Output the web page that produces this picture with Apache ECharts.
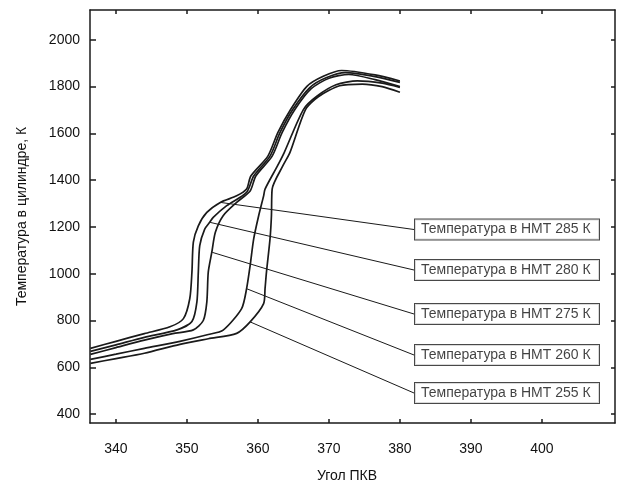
<!DOCTYPE html>
<html>
<head>
<meta charset="utf-8">
<script src="https://cdn.jsdelivr.net/npm/echarts@6/dist/echarts.min.js"></script>
<style>
  html, body { margin: 0; padding: 0; background: #fff; }
  #chart { width: 617px; height: 488px; }
</style>
</head>
<body>
<div id="chart"></div>
<script>
// Crank angle ticks and cylinder temperature ticks
const angleTicks = [340, 350, 360, 370, 380, 390, 400];
const tempTicks = [400, 600, 800, 1000, 1200, 1400, 1600, 1800, 2000];

// Curve names (intake temperature at BDC)
const curveNames = [
  'Температура в НМТ 285 К',
  'Температура в НМТ 280 К',
  'Температура в НМТ 275 К',
  'Температура в НМТ 260 К',
  'Температура в НМТ 255 К'
];

// [crank angle, temperature K]
const curve285 = [
  [336.4, 681], [340, 711], [344, 744], [347.6, 773], [349.5, 808], [350.4, 894],
  [350.7, 1007], [350.9, 1135], [351.6, 1205], [352.8, 1262], [354.7, 1305],
  [357.0, 1333], [358.4, 1362], [359.0, 1418], [361.4, 1503], [362.8, 1603],
  [364.6, 1702], [366.9, 1801], [369.2, 1844], [371.8, 1869], [376.5, 1850], [380, 1824]
];
const curve280 = [
  [336.4, 668], [340, 696], [344, 728], [348.6, 760], [350.7, 796], [351.4, 880],
  [351.6, 1007], [351.8, 1120], [352.5, 1191], [353.2, 1220], [353.7, 1241],
  [355.6, 1291], [358.4, 1348], [359.4, 1418], [361.7, 1503], [363.1, 1603],
  [364.9, 1702], [367.3, 1796], [369.6, 1838], [372.3, 1860], [376.5, 1843], [380, 1818]
];
const curve275 = [
  [336.4, 655], [340, 684], [344, 716], [348, 744], [350.9, 760], [352.3, 800],
  [352.8, 880], [353.0, 1007], [353.5, 1092], [354.0, 1177], [355.1, 1248],
  [357.0, 1305], [358.9, 1354], [359.7, 1418], [362.0, 1503], [363.4, 1603],
  [365.2, 1702], [367.5, 1791], [370.0, 1836], [372.8, 1852], [376.5, 1830], [380, 1800]
];
const curve260 = [
  [336.4, 634], [340, 656], [344, 681], [349.0, 711], [353, 740], [355.1, 759],
  [357.7, 851], [358.4, 936], [358.9, 1035], [359.4, 1149], [360.1, 1248],
  [360.8, 1333], [361.0, 1362], [362.75, 1461], [363.7, 1518], [366.4, 1702],
  [368.3, 1759], [371.0, 1808], [374.0, 1825], [377.5, 1815], [380, 1797]
];
const curve255 = [
  [336.4, 617], [340, 637], [344, 660], [349.0, 698], [353, 722], [357.0, 745],
  [358.9, 794], [360.8, 872], [361.0, 936], [361.2, 1007], [361.7, 1149],
  [361.9, 1248], [362.0, 1362], [363.5, 1461], [364.5, 1518], [366.7, 1702],
  [368.5, 1757], [371.5, 1804], [374.7, 1811], [377.5, 1800], [380, 1776]
];

const curves = [curve285, curve280, curve275, curve260, curve255];
// point on each curve where its callout leader starts
const calloutIndex = [10, 9, 8, 7, 6];

// callout box layout (pixels)
const BOX_LEFT = 415;
const BOX_MID = [229.5, 270, 314, 355, 393];

const FONT = '"Liberation Sans", Arial, Helvetica, sans-serif';
const INK = '#1a1a1a';

const chart = echarts.init(document.getElementById('chart'), null, { renderer: 'canvas' });

function frameAxis(extra) {
  return Object.assign({
    type: 'value',
    axisLine: { show: true, onZero: false, lineStyle: { color: INK, width: 1.5 } },
    splitLine: { show: false },
    minorTick: { show: false }
  }, extra);
}

const lineSeries = curves.map((c, i) => ({
  name: curveNames[i],
  type: 'line',
  data: c,
  xAxisIndex: 0,
  yAxisIndex: 0,
  showSymbol: false,
  symbol: 'none',
  smooth: 0.25,
  lineStyle: { color: INK, width: 1.7 },
  z: 3
}));

const callouts = {
  type: 'scatter',
  xAxisIndex: 0,
  yAxisIndex: 0,
  symbol: 'circle',
  symbolSize: 1,
  itemStyle: { color: INK },
  z: 4,
  data: curves.map((c, i) => ({ name: curveNames[i], value: c[calloutIndex[i]] })),
  label: {
    show: true,
    formatter: p => p.name,
    fontFamily: FONT,
    fontSize: 14,
    lineHeight: 17,
    width: 172,
    overflow: 'none',
    color: '#111',
    backgroundColor: '#fff',
    borderColor: INK,
    borderWidth: 1,
    padding: [2, 6, 1, 6]
  },
  labelLine: { show: true, lineStyle: { color: INK, width: 1 } },
  labelLayout: function (p) {
    const i = p.dataIndex;
    const cx = p.rect.x + p.rect.width / 2;
    const cy = p.rect.y + p.rect.height / 2;
    return {
      x: BOX_LEFT,
      y: BOX_MID[i],
      align: 'left',
      verticalAlign: 'middle',
      labelLinePoints: [[cx, cy], [BOX_LEFT, BOX_MID[i]]]
    };
  }
};

chart.setOption({
  backgroundColor: '#fff',
  animation: false,
  grid: { left: 90, right: 2, top: 10, bottom: 63, containLabel: false },
  xAxis: [
    frameAxis({
      position: 'bottom',
      min: 336.34, max: 410.3,
      name: 'Угол ПКВ',
      nameLocation: 'middle',
      nameGap: 46,
      nameTextStyle: { fontFamily: FONT, fontSize: 14, color: '#111', padding: [0, 11, 0, 0] },
      axisTick: { show: true, inside: true, length: 4, customValues: angleTicks, lineStyle: { color: INK, width: 1.5 } },
      axisLabel: { show: true, customValues: angleTicks, margin: 19, fontFamily: FONT, fontSize: 14, color: '#111' }
    }),
    frameAxis({
      position: 'top',
      min: 336.34, max: 410.3,
      axisTick: { show: true, inside: true, length: 4, customValues: angleTicks, lineStyle: { color: INK, width: 1.5 } },
      axisLabel: { show: false }
    })
  ],
  yAxis: [
    frameAxis({
      position: 'left',
      min: 361.7, max: 2127.7,
      name: 'Температура в цилиндре, К',
      nameLocation: 'middle',
      nameGap: 61,
      nameTextStyle: { fontFamily: FONT, fontSize: 14, color: '#111' },
      axisTick: { show: true, inside: true, length: 6, customValues: tempTicks, lineStyle: { color: INK, width: 1.5 } },
      axisLabel: { show: true, customValues: tempTicks, formatter: v => String(v), margin: 10, fontFamily: FONT, fontSize: 14, color: '#111' }
    }),
    frameAxis({
      position: 'right',
      min: 361.7, max: 2127.7,
      axisTick: { show: true, inside: true, length: 4, customValues: tempTicks, lineStyle: { color: INK, width: 1.5 } },
      axisLabel: { show: false }
    })
  ],
  series: lineSeries.concat([callouts])
});
</script>
</body>
</html>
